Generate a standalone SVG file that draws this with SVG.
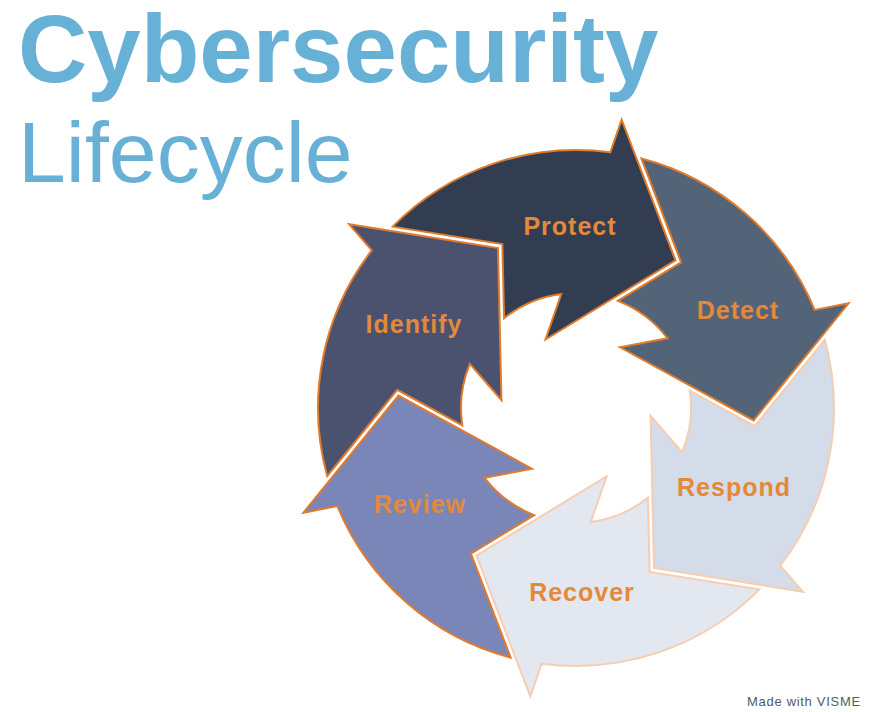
<svg xmlns="http://www.w3.org/2000/svg" xmlns:xlink="http://www.w3.org/1999/xlink" width="871" height="712" viewBox="0 0 871 712">
<style>
.title{font-family:"Liberation Sans",Arial,sans-serif;fill:#67b0d6}
.lbl{font-family:"Liberation Sans",Arial,sans-serif;font-weight:bold;font-size:25px;fill:#e4893a;text-anchor:middle;letter-spacing:1px}
.dark{stroke:#e07b2c;stroke-width:2;stroke-linejoin:miter}
.light{stroke:#f5cdb0;stroke-width:2;stroke-linejoin:miter}
.credit{font-family:"Liberation Sans",Arial,sans-serif;font-size:13px;fill:#555a66;letter-spacing:0.7px}
</style>
<defs>
<path id="arrow" d="M47.79,-253.5 A258,258 0 0 1 231.2,-114.5 L264.6,-123.4 L178,0 L39.7,-63.6 L86.3,-76 A115,115 0 0 0 34.2,-109.8 L94.66,-152.7 Z"/>
</defs>
<rect width="871" height="712" fill="#ffffff"/>
<text class="title" x="18" y="82" font-size="96" font-weight="bold">Cybersecurity</text>
<text class="title" x="18" y="182" font-size="86">Lifecycle</text>
<g id="connectors"></g>
<g id="identify">
<use xlink:href="#arrow" class="dark" fill="#4b526f" transform="translate(576 408) rotate(244)"/>
</g>
<g id="protect">
<use xlink:href="#arrow" class="dark" fill="#333d52" transform="translate(576 408) rotate(304)"/>
</g>
<g id="detect">
<use xlink:href="#arrow" class="dark" fill="#536479" transform="translate(576 408) rotate(4)"/>
</g>
<g id="respond">
<use xlink:href="#arrow" class="light" fill="#d3dce8" transform="translate(576 408) rotate(64)"/>
</g>
<g id="recover">
<use xlink:href="#arrow" class="light" fill="#e3e7f0" transform="translate(576 408) rotate(124)"/>
</g>
<g id="review">
<use xlink:href="#arrow" class="dark" fill="#7b86b8" transform="translate(576 408) rotate(184)"/>
</g>
<g id="labels">
<text class="lbl" x="414" y="333">Identify</text>
<text class="lbl" x="570" y="235">Protect</text>
<text class="lbl" x="738" y="319">Detect</text>
<text class="lbl" x="734" y="496">Respond</text>
<text class="lbl" x="582" y="601">Recover</text>
<text class="lbl" x="420" y="513">Review</text>
</g>
<text class="credit" x="747" y="706">Made with VISME</text>
</svg>
